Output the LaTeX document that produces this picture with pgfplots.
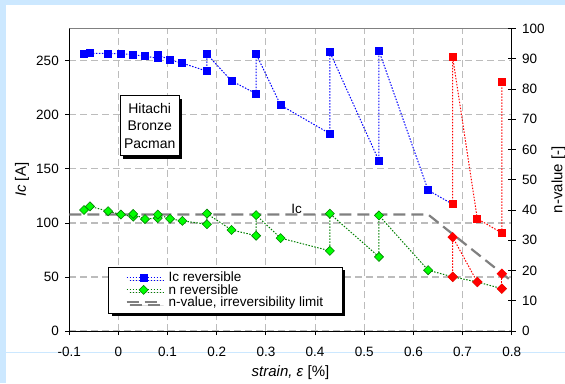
\documentclass[border=0pt]{standalone}
\usepackage{fontspec}
\setmainfont{Liberation Sans}
\usepackage{pgfplots}
\pgfplotsset{compat=1.18}
\usetikzlibrary{shadows}

\definecolor{frameblue}{RGB}{204,232,255}
\definecolor{gridgray}{RGB}{188,188,188}
\definecolor{ndark}{RGB}{0,128,0}
\definecolor{nfill}{RGB}{0,255,0}
\definecolor{limgray}{RGB}{128,128,128}

\pgfplotsset{
  base/.style={
    scale only axis, width=442.4pt, height=302.5pt,
    at={(69.3pt,52pt)}, anchor=south west,
    xmin=-0.1, xmax=0.8,
    tick label style={font=\fontsize{13.5}{14}\selectfont},
    label style={font=\fontsize{15}{16}\selectfont},
    axis line style={line width=0.9pt, black},
    major tick style={line width=0.9pt, black},
    major tick length=4pt,
  },
  dotline/.style={line width=1pt, dash pattern=on 1.5pt off 1.5pt},
}

\begin{document}
\begin{tikzpicture}[x=1pt,y=1pt]
% window background
\fill[frameblue] (0,0) rectangle (565,383);
\fill[white] (6,0) rectangle (565,378);
\draw[frameblue, line width=0.8pt] (6,31) -- (565,31);

% critical current, left axis
\begin{axis}[base,
  ymin=0, ymax=280,
  axis x line*=bottom, axis y line*=left,
  tick align=outside,
  xtick={-0.1,0,0.1,0.2,0.3,0.4,0.5,0.6,0.7,0.8},
  xticklabels={-0.1,0,0.1,0.2,0.3,0.4,0.5,0.6,0.7,0.8},
  ytick={0,50,100,150,200,250},
  yticklabels={0,50,100,150,200,250},
  xticklabel style={yshift=-9pt},
  yticklabel style={xshift=-3pt},
  grid=major,
  major grid style={gridgray, line width=1.1pt, dash pattern=on 7pt off 4pt},
  xlabel={\textit{strain, ε} [\%]},
  ylabel={\textit{Ic} [A]},
  xlabel style={at={(axis description cs:0.5,-0.138)}, anchor=center},
  ylabel style={at={(axis description cs:-0.107,0.5)}, anchor=center},
]
\draw[limgray, line width=0.9pt] (rel axis cs:0,1) -- (rel axis cs:1,1);
\addplot[blue, dotline, mark=square*, mark size=3.5pt,
  mark options={solid, fill=blue}] coordinates {
  (-0.07,256.2) (-0.058,257.1) (-0.021,256.8) (0.005,256.8) (0.03,255.6)
  (0.054,254.4) (0.08,252.5) (0.08,255.8) (0.105,250.9) (0.13,247.9)
  (0.18,240.5) (0.18,256.2) (0.23,231.5) (0.28,219.7) (0.28,256.5)
  (0.33,209.0) (0.43,182.7) (0.43,258.3) (0.53,157.4) (0.53,259.3)
  (0.63,130.3) (0.68,117.3)
};
\addplot[red, dotline, mark=square*, mark size=3.5pt,
  mark options={solid, fill=red}] coordinates {
  (0.68,117.3) (0.68,253.4) (0.73,104.0) (0.78,90.7) (0.78,230.6)
};
\end{axis}

% n-value, right axis
\begin{axis}[base,
  ymin=0, ymax=100,
  axis y line*=right, axis x line=none,
  tick align=center, major tick length=8pt,
  ytick={0,10,20,30,40,50,60,70,80,90,100},
  yticklabels={0,10,20,30,40,50,60,70,80,90,100},
  yticklabel style={xshift=3pt},
  ylabel={n-value [-]},
  ylabel style={at={(axis description cs:1.106,0.5)}, anchor=center},
  legend cell align=left,
  legend style={at={(axis description cs:0.0882,0.0595)}, anchor=south west,
    font=\fontsize{13.5}{13.5}\selectfont, draw=black, fill=white,
    inner xsep=17pt, inner ysep=3pt, row sep=-3pt,
    /tikz/every odd column/.append style={column sep=5pt},
    drop shadow={shadow xshift=3pt, shadow yshift=-3pt, opacity=1, fill=black}},
  legend image code/.code={
    \draw[mark repeat=2, mark phase=2, #1]
      plot coordinates {(0pt,0pt) (17pt,0pt) (34pt,0pt)};},
]
\addlegendimage{blue, dotline, mark=square*, mark size=3.5pt,
  mark options={solid, fill=blue}}
\addlegendentry{Ic reversible}
\addplot[limgray, line width=2.2pt, dash pattern=on 12pt off 6pt, forget plot]
  coordinates {(-0.1,38.5) (0.63,38.5) (0.8,16.5)};
\addplot[ndark, dotline, mark=square*, mark size=3.2pt,
  mark options={solid, rotate=45, fill=nfill, draw=ndark, line width=0.6pt}]
  coordinates {
  (-0.07,40.0) (-0.058,41.2) (-0.021,39.6) (0.005,38.5) (0.03,37.8)
  (0.03,38.7) (0.054,37.0) (0.08,37.3) (0.08,38.5) (0.105,37.1)
  (0.13,36.4) (0.18,35.3) (0.18,38.8) (0.23,33.4) (0.28,31.5)
  (0.28,38.3) (0.33,30.7) (0.43,26.5) (0.43,38.8) (0.53,24.5)
  (0.53,38.2) (0.63,20.1) (0.68,17.9) (0.73,16.2) (0.78,14.0)
};
\addlegendentry{n reversible}
\addplot[red, dotline, mark=square*, mark size=3.2pt,
  mark options={solid, rotate=45, fill=red}, forget plot] coordinates {
  (0.68,17.9) (0.68,31.0) (0.73,16.2)
};
\addplot[red, dotline, mark=square*, mark size=3.2pt,
  mark options={solid, rotate=45, fill=red}, forget plot] coordinates {
  (0.78,14.0) (0.78,18.9)
};
\addlegendimage{limgray, line width=2.2pt, dash pattern=on 12pt off 6pt}
\addlegendentry{n-value, irreversibility limit}
\end{axis}

% annotations
\node[font=\fontsize{13.5}{14}\selectfont, anchor=base, inner sep=0pt]
  at (296.7,169) {Ic};
\node[draw=black, fill=white, align=center, inner sep=0pt,
  minimum width=58.7pt, minimum height=60pt,
  font=\fontsize{14}{17.3}\selectfont,
  drop shadow={shadow xshift=3pt, shadow yshift=-3pt, opacity=1, fill=black}]
  at (149.7,257.3) {Hitachi\\Bronze\\Pacman};

\pgfresetboundingbox
\useasboundingbox (0,0) rectangle (565,383);
\end{tikzpicture}
\end{document}
